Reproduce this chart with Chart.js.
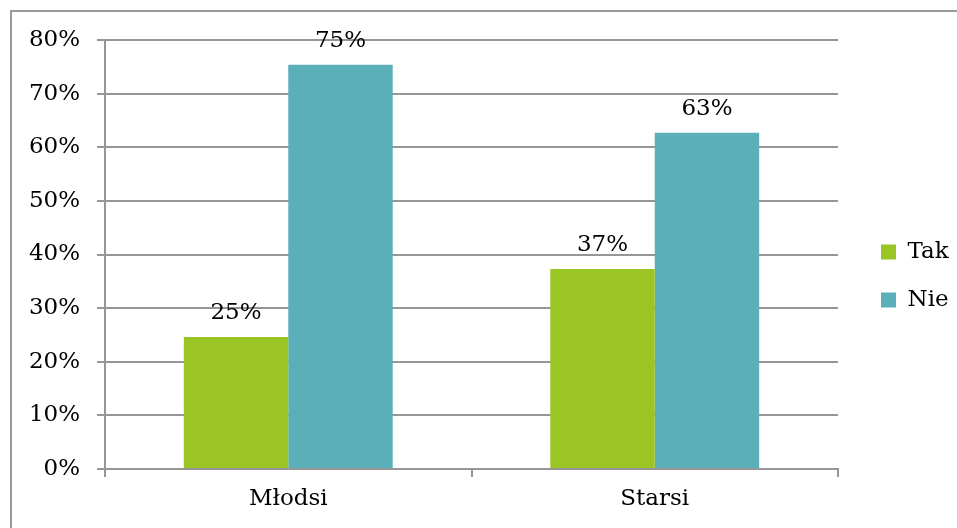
<!DOCTYPE html>
<html>
<head>
<meta charset="utf-8">
<script src="https://cdn.jsdelivr.net/npm/chart.js@4"></script>
<style>
    html, body { margin: 0; padding: 0; background: #fff; }
    #wrap { position: relative; width: 957px; height: 528px; overflow: hidden; }
    #frame { position: absolute; left: 10px; top: 10px; width: 1000px; height: 1000px; border: 2px solid #9a9a9a; }
    #box { position: absolute; left: 0; top: 0; width: 957px; height: 528px; }
</style>
</head>
<body>
<div id="wrap">
    <div id="frame"></div>
    <div id="box"><canvas id="chart"></canvas></div>
</div>
<script>
const categories = ['Młodsi', 'Starsi'];
const seriesNames = ['Tak', 'Nie'];
const takValues = [24.6, 37.3];
const nieValues = [75.4, 62.7];
const valueLabels = [['25%', '37%'], ['75%', '63%']];

// --- Styling ---
const FONT = '"DejaVu Serif", serif';
const FONT_SIZE = 23;
const COLORS = {
    tak: '#9bc524',
    nie: '#5aafb9',
    grid: '#969696',
    text: '#000'
};

// draws the % labels above each bar
const barLabels = {
    id: 'barLabels',
    afterDatasetsDraw(chart) {
        const ctx = chart.ctx;
        ctx.save();
        ctx.font = FONT_SIZE + 'px ' + FONT;
        ctx.fillStyle = COLORS.text;
        ctx.textAlign = 'center';
        ctx.textBaseline = 'alphabetic';
        chart.data.datasets.forEach((ds, i) => {
            chart.getDatasetMeta(i).data.forEach((bar, j) => {
                ctx.fillText(valueLabels[i][j], bar.x, bar.y - 18);
            });
        });
        ctx.restore();
    }
};

// wider legend column so the plot ends where the original does,
// and nudge the legend items to sit like the original's
const legendTweak = {
    id: 'legendTweak',
    afterInit(chart) {
        const lg = chart.legend;
        const origFit = lg.fit.bind(lg);
        const origDraw = lg.draw.bind(lg);
        lg.fit = function () {
            origFit();
            this.width = 119;
        };
        lg.draw = function () {
            const dx = 18, dy = -8;
            this.left += dx; this.top += dy; this.bottom += dy;
            origDraw();
            this.left -= dx; this.top -= dy; this.bottom -= dy;
        };
    }
};

const ctx = document.getElementById('chart').getContext('2d');
new Chart(ctx, {
    type: 'bar',
    data: {
        labels: categories,
        datasets: [
            { label: seriesNames[0], data: takValues, backgroundColor: COLORS.tak },
            { label: seriesNames[1], data: nieValues, backgroundColor: COLORS.nie }
        ]
    },
    options: {
        responsive: true,
        maintainAspectRatio: false,
        animation: false,
        categoryPercentage: 0.57,
        barPercentage: 1,
        layout: { padding: { top: 40, right: 0, left: 0, bottom: 0 } },
        plugins: {
            tooltip: { enabled: false },
            legend: {
                position: 'right',
                labels: {
                    font: { family: FONT, size: FONT_SIZE },
                    color: COLORS.text,
                    boxWidth: 15,
                    boxHeight: 15,
                    padding: 25
                }
            }
        },
        scales: {
            x: {
                grid: { display: true, drawOnChartArea: false, offset: true, color: COLORS.grid, lineWidth: 2, tickLength: 8 },
                border: { color: COLORS.grid, width: 2 },
                ticks: { font: { family: FONT, size: FONT_SIZE }, color: COLORS.text, padding: 8 },
                afterFit: (scale) => { scale.height = 59; }
            },
            y: {
                min: 0,
                max: 80,
                ticks: {
                    stepSize: 10,
                    font: { family: FONT, size: FONT_SIZE },
                    color: COLORS.text,
                    padding: 17,
                    callback: (v) => v + '%'
                },
                grid: { color: COLORS.grid, lineWidth: 2, tickLength: 8 },
                border: { color: COLORS.grid, width: 2 },
                afterFit: (scale) => { scale.width = 105; }
            }
        }
    },
    plugins: [barLabels, legendTweak]
});
</script>
</body>
</html>
